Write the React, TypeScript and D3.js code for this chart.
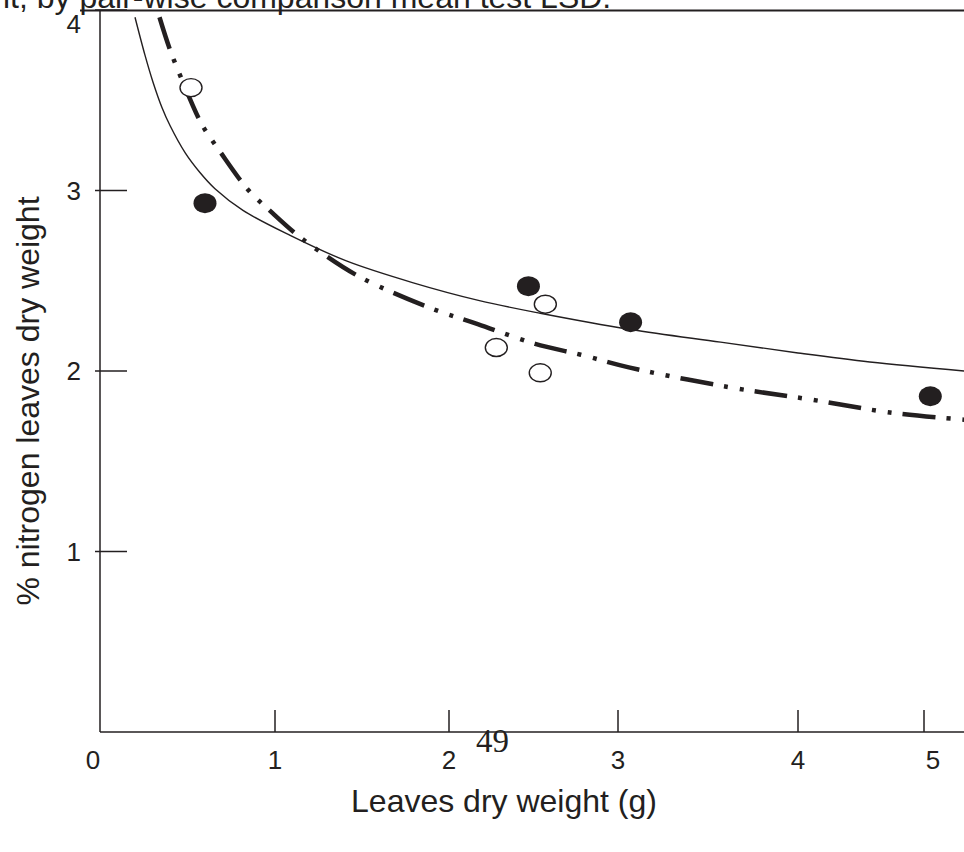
import * as d3 from 'd3'
import { useEffect, useRef } from 'react'

// tick values (the original axis is hand drawn, ticks are not evenly spaced)
const xTicks = [0, 1, 2, 3, 4, 5]
const yTicks = [1, 2, 3, 4]

// open circles
const openX = [0.52, 2.57, 2.28, 2.54]
const openY = [3.57, 2.37, 2.13, 1.99]
// filled circles
const filledX = [0.6, 2.47, 3.07, 5.05]
const filledY = [2.93, 2.47, 2.27, 1.86]

// solid fitted curve
const solidX = [0.2, 0.257, 0.303, 0.354, 0.4, 0.486, 0.571, 0.657, 0.817, 1.09, 1.41, 1.79, 2.18, 2.54, 3.07, 3.57, 4.0, 4.57, 5.32]
const solidY = [3.96, 3.75, 3.6, 3.46, 3.36, 3.21, 3.1, 3.01, 2.89, 2.75, 2.61, 2.49, 2.39, 2.32, 2.23, 2.16, 2.1, 2.05, 2.0]
// dash-dot fitted curve
const dashX = [0.34, 0.4, 0.47, 0.58, 0.69, 0.85, 0.98, 1.12, 1.26, 1.49, 1.89, 2.17, 2.51, 2.78, 3.06, 3.62, 4.12, 4.73, 5.32]
const dashY = [3.96, 3.78, 3.61, 3.37, 3.21, 3.0, 2.88, 2.76, 2.66, 2.52, 2.35, 2.26, 2.15, 2.09, 2.02, 1.91, 1.84, 1.77, 1.73]

const ink = '#231f20'
const sans = 'Liberation Sans, Arial, sans-serif'

export default function App() {
	const svgRef = useRef<SVGSVGElement>(null)

	useEffect(() => {
		document.body.style.margin = '0'
		const svg = d3.select(svgRef.current)
		svg.selectAll('*').remove()

		const x = d3.scaleLinear().domain(xTicks).range([100, 275, 449, 618, 798, 924])
		const y = d3.scaleLinear().domain([0, 4]).range([732, 10])

		// cut off caption line from the page above
		svg
			.append('text')
			.attr('x', 3)
			.attr('y', 8)
			.attr('font-family', sans)
			.attr('font-size', 32)
			.attr('fill', ink)
			.text('it, by pair-wise comparison mean test LSD.')
		svg
			.append('line')
			.attr('x1', 80)
			.attr('x2', 964)
			.attr('y1', 10.5)
			.attr('y2', 10.5)
			.attr('stroke', ink)
			.attr('stroke-width', 2)

		// axes
		svg
			.append('line')
			.attr('x1', x(0))
			.attr('x2', x(0))
			.attr('y1', y(4))
			.attr('y2', y(0))
			.attr('stroke', ink)
			.attr('stroke-width', 1.5)
		svg
			.append('line')
			.attr('x1', x(0))
			.attr('x2', 964)
			.attr('y1', y(0))
			.attr('y2', y(0))
			.attr('stroke', ink)
			.attr('stroke-width', 1.5)

		svg
			.selectAll('.ytick')
			.data(yTicks)
			.enter()
			.append('line')
			.attr('x1', x(0) - 5)
			.attr('x2', x(0) + 27)
			.attr('y1', (d) => y(d))
			.attr('y2', (d) => y(d))
			.attr('stroke', ink)
			.attr('stroke-width', 1.5)
		svg
			.selectAll('.ylab')
			.data(yTicks)
			.enter()
			.append('text')
			.attr('x', 81)
			.attr('y', (d) => Math.max(y(d), 24))
			.attr('dy', '0.35em')
			.attr('text-anchor', 'end')
			.attr('font-family', sans)
			.attr('font-size', 26)
			.attr('fill', ink)
			.text((d) => d)

		svg
			.selectAll('.xtick')
			.data(xTicks.slice(1))
			.enter()
			.append('line')
			.attr('x1', (d) => x(d))
			.attr('x2', (d) => x(d))
			.attr('y1', y(0) - 22)
			.attr('y2', y(0))
			.attr('stroke', ink)
			.attr('stroke-width', 1.5)
		svg
			.selectAll('.xlab')
			.data(xTicks)
			.enter()
			.append('text')
			.attr('x', (d) => x(d) + (d === 0 ? -7 : d === 5 ? 9 : 0))
			.attr('y', 760)
			.attr('dy', '0.35em')
			.attr('text-anchor', 'middle')
			.attr('font-family', sans)
			.attr('font-size', 26)
			.attr('fill', ink)
			.text((d) => d)

		// page number
		svg
			.append('text')
			.attr('x', 476)
			.attr('y', 752)
			.attr('font-family', 'Liberation Serif, Times New Roman, serif')
			.attr('font-size', 33)
			.attr('fill', ink)
			.text('49')

		// titles
		svg
			.append('text')
			.attr('x', 504)
			.attr('y', 812)
			.attr('text-anchor', 'middle')
			.attr('font-family', sans)
			.attr('font-size', 32)
			.attr('fill', ink)
			.text('Leaves dry weight (g)')
		svg
			.append('text')
			.attr('transform', 'translate(39,401) rotate(-90)')
			.attr('text-anchor', 'middle')
			.attr('font-family', sans)
			.attr('font-size', 32)
			.attr('fill', ink)
			.text('% nitrogen leaves dry weight')

		// ----------------curves----------------
		const line = d3
			.line<[number, number]>()
			.x((d) => x(d[0]))
			.y((d) => y(d[1]))
			.curve(d3.curveCatmullRom.alpha(0.5))

		svg
			.append('path')
			.datum(solidX.map((v, i) => [v, solidY[i]] as [number, number]))
			.attr('fill', 'none')
			.attr('stroke', ink)
			.attr('stroke-width', 1.4)
			.attr('d', line)
		svg
			.append('path')
			.datum(dashX.map((v, i) => [v, dashY[i]] as [number, number]))
			.attr('fill', 'none')
			.attr('stroke', ink)
			.attr('stroke-width', 4.5)
			.attr('stroke-dasharray', '33,11,4,12,4,11')
			.attr('d', line)

		// ----------------points----------------
		svg
			.selectAll('.open')
			.data(openX.map((v, i) => [v, openY[i]]))
			.enter()
			.append('ellipse')
			.attr('cx', (d) => x(d[0]))
			.attr('cy', (d) => y(d[1]))
			.attr('rx', 11)
			.attr('ry', 9)
			.attr('fill', 'white')
			.attr('stroke', ink)
			.attr('stroke-width', 1.4)
		svg
			.selectAll('.filled')
			.data(filledX.map((v, i) => [v, filledY[i]]))
			.enter()
			.append('ellipse')
			.attr('cx', (d) => x(d[0]))
			.attr('cy', (d) => y(d[1]))
			.attr('rx', 11.5)
			.attr('ry', 10)
			.attr('fill', ink)
	}, [])

	return (
		<svg ref={svgRef} width={964} height={852} style={{ display: 'block', background: 'white' }} />
	)
}
